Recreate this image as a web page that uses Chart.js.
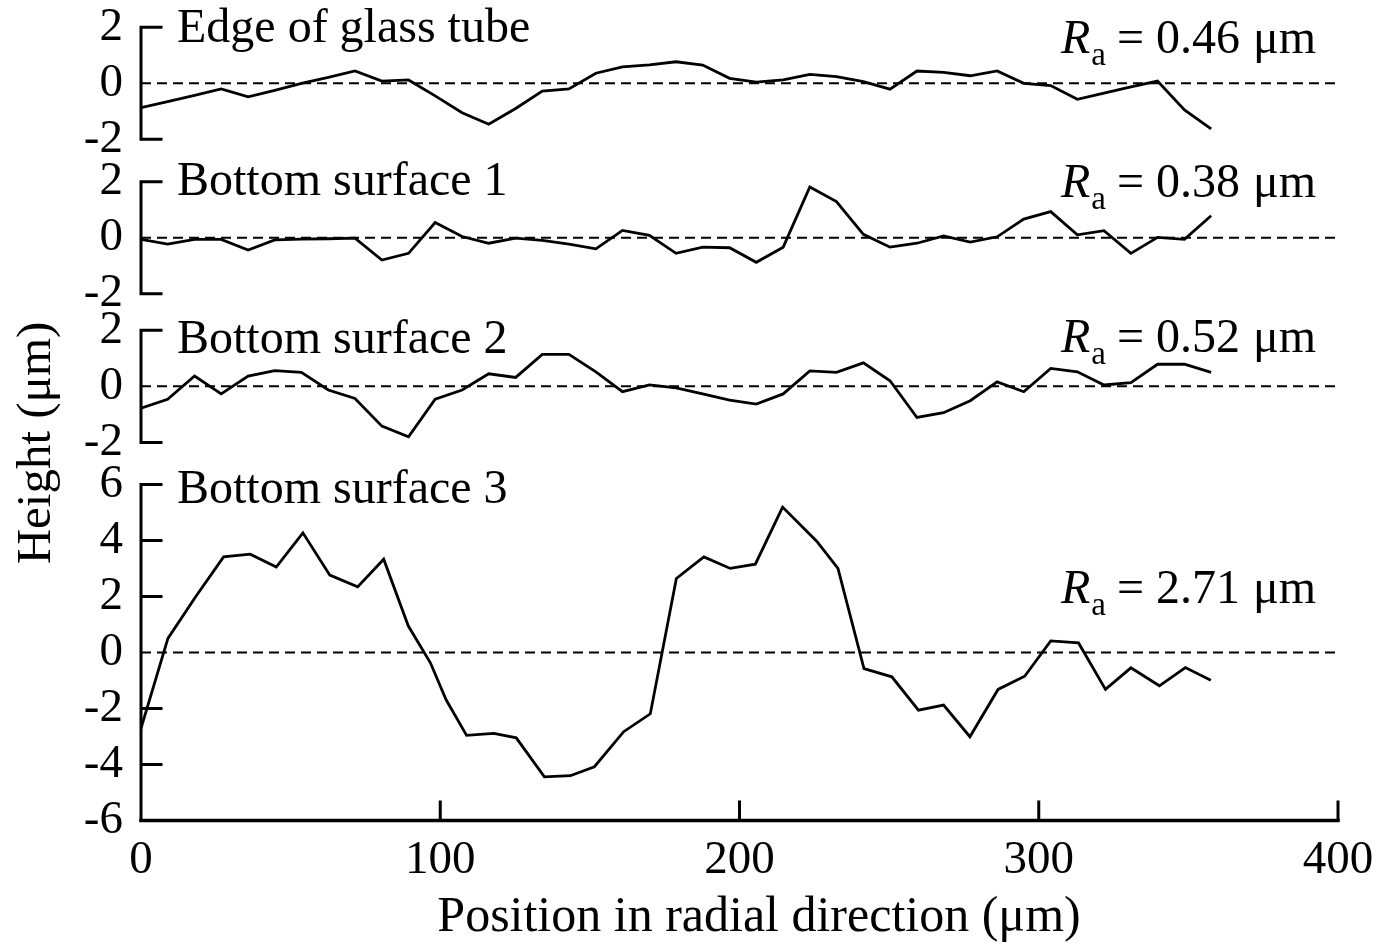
<!DOCTYPE html>
<html>
<head>
<meta charset="utf-8">
<title>Surface height profiles</title>
<script src="https://cdn.jsdelivr.net/npm/chart.js@4.4.1/dist/chart.umd.min.js"></script>
<style>
  html, body { margin: 0; padding: 0; background: #fff; }
  #wrap { width: 1380px; height: 944px; }
</style>
</head>
<body>
<div id="wrap"><canvas id="profileChart" width="1380" height="944"></canvas></div>
<script>
// Radial sample positions (um) shared by the three upper profiles
const POSITIONS = [0, 8.9, 17.9, 26.8, 35.8, 44.7, 53.6, 62.6, 71.5, 80.5, 89.4, 98.3, 107.3, 116.2,
  125.2, 134.1, 143.0, 152.0, 160.9, 169.9, 178.8, 187.7, 196.7, 205.6, 214.6, 223.5, 232.4, 241.4,
  250.3, 259.3, 268.2, 277.1, 286.1, 295.0, 304.0, 312.9, 321.8, 330.8, 339.7, 348.7, 357.6];

// Sample positions of the bottom surface 3 trace
const POSITIONS_3 = [0, 9.0, 18.2, 27.6, 36.5, 45.2, 54.1, 63.1, 72.4, 81.1, 89.3, 96.7, 102.0, 108.8,
  117.9, 125.4, 134.8, 143.5, 151.5, 161.3, 170.2, 178.9, 188.1, 196.9, 205.3, 214.4, 225.8, 232.9,
  241.6, 250.9, 259.8, 268.2, 277.0, 286.4, 295.3, 304.0, 313.3, 322.3, 330.8, 340.3, 349.0, 357.5];

// Heights (um)
const EDGE = [-0.87, -0.65, -0.43, -0.2, -0.48, -0.25, 0.0, 0.21, 0.44, 0.08, 0.12, -0.45, -1.05, -1.46,
  -0.9, -0.28, -0.2, 0.36, 0.59, 0.66, 0.77, 0.65, 0.18, 0.04, 0.12, 0.32, 0.24, 0.06, -0.21, 0.44,
  0.39, 0.27, 0.44, 0.0, -0.08, -0.57, -0.35, -0.13, 0.08, -0.95, -1.63];

const BOTTOM_1 = [-0.06, -0.23, -0.06, -0.06, -0.44, -0.08, -0.05, -0.04, -0.02, -0.80, -0.56, 0.54,
  0.04, -0.20, -0.02, -0.10, -0.23, -0.40, 0.26, 0.08, -0.56, -0.34, -0.36, -0.88, -0.34, 1.81, 1.29,
  0.12, -0.34, -0.20, 0.06, -0.16, 0.03, 0.66, 0.93, 0.10, 0.25, -0.56, 0.01, -0.06, 0.78];

const BOTTOM_2 = [-0.78, -0.46, 0.37, -0.27, 0.37, 0.56, 0.50, -0.13, -0.43, -1.42, -1.80, -0.46,
  -0.13, 0.45, 0.32, 1.14, 1.14, 0.52, -0.19, 0.05, -0.05, -0.27, -0.49, -0.63, -0.27, 0.55, 0.50,
  0.84, 0.20, -1.11, -0.94, -0.51, 0.16, -0.19, 0.64, 0.52, 0.05, 0.13, 0.79, 0.79, 0.50];

const BOTTOM_3 = [-2.71, 0.50, 1.98, 3.41, 3.51, 3.05, 4.27, 2.76, 2.34, 3.33, 0.95, -0.37, -1.70,
  -2.96, -2.89, -3.05, -4.44, -4.40, -4.08, -2.83, -2.19, 2.64, 3.41, 3.00, 3.15, 5.19, 3.97, 3.00,
  -0.58, -0.87, -2.06, -1.88, -3.01, -1.32, -0.85, 0.41, 0.34, -1.32, -0.55, -1.19, -0.54, -0.99];

const PANEL_NAMES = ['Edge of glass tube', 'Bottom surface 1', 'Bottom surface 2', 'Bottom surface 3'];
const RA_VALUES = ['0.46', '0.38', '0.52', '2.71'];
const SMALL_TICKS = [-2, 0, 2];
const LARGE_TICKS = [-6, -4, -2, 0, 2, 4, 6];
const X_TICKS = [0, 100, 200, 300, 400];
const X_TITLE = 'Position in radial direction (\u03bcm)';
const Y_TITLE = 'Height (\u03bcm)';

// Layout
const FONT = "'Liberation Serif', 'Times New Roman', serif";
const AXIS_IDS = ['y1', 'y2', 'y3', 'y4'];
const PANEL_TICKS = [SMALL_TICKS, SMALL_TICKS, SMALL_TICKS, LARGE_TICKS];
const PANEL_MIN = [-3.51, -3.31, -3.5, -6];     // extra room below each panel acts as the gap
const PANEL_MAX = [2, 2, 2, 6];
const NAME_BASELINE = [42, 195, 353, 503];
const RA_BASELINE = [53, 197, 352, 603];
const TICK_LEN = 20;

Chart.defaults.font.family = FONT;
Chart.defaults.color = '#000';

const traces = [
  { x: POSITIONS, y: EDGE },
  { x: POSITIONS, y: BOTTOM_1 },
  { x: POSITIONS, y: BOTTOM_2 },
  { x: POSITIONS_3, y: BOTTOM_3 }
];

const datasets = [];
traces.forEach((t, i) => {
  datasets.push({
    data: t.x.map((x, k) => ({ x, y: t.y[k] })),
    yAxisID: AXIS_IDS[i],
    borderColor: '#000',
    borderWidth: 2.8,
    borderJoinStyle: 'miter',
    pointRadius: 0,
    tension: 0,
    fill: false
  });
  // zero reference line
  datasets.push({
    data: [{ x: X_TICKS[0], y: 0 }, { x: X_TICKS[X_TICKS.length - 1], y: 0 }],
    yAxisID: AXIS_IDS[i],
    borderColor: '#000',
    borderWidth: 2,
    borderDash: [10, 6],
    pointRadius: 0,
    fill: false
  });
});

function panelAxis(i) {
  const ticks = PANEL_TICKS[i];
  return {
    type: 'linear',
    position: 'left',
    stack: 'panels',
    stackWeight: PANEL_MAX[i] - PANEL_MIN[i],
    weight: AXIS_IDS.length - i,
    min: PANEL_MIN[i],
    max: PANEL_MAX[i],
    grid: { display: false, drawTicks: false },
    border: { display: false },
    afterBuildTicks: s => { s.ticks = ticks.map(v => ({ value: v })); },
    afterFit: s => {
      s.width = 141;
      s.paddingTop = 0; s.paddingBottom = 0;
    },
    ticks: { autoSkip: false, padding: 18, font: { size: 47 } }
  };
}

const scales = {
  x: {
    type: 'linear',
    position: 'bottom',
    min: X_TICKS[0],
    max: X_TICKS[X_TICKS.length - 1],
    grid: { display: false, drawTicks: false },
    border: { display: false },
    afterBuildTicks: s => { s.ticks = X_TICKS.map(v => ({ value: v })); },
    afterFit: s => {
      s.height = 944 - 820.5;
      s.paddingLeft = 0; s.paddingRight = 0;
    },
    ticks: { autoSkip: false, maxRotation: 0, padding: 12, font: { size: 47 } }
  }
};
AXIS_IDS.forEach((id, i) => { scales[id] = panelAxis(i); });

// Axis brackets, inward ticks, titles and Ra labels
const panelFrame = {
  id: 'panelFrame',
  afterDraw(chart) {
    const ctx = chart.ctx;
    const xs = chart.scales.x;
    const left = xs.getPixelForValue(X_TICKS[0]);
    const right = xs.getPixelForValue(X_TICKS[X_TICKS.length - 1]);
    ctx.save();
    ctx.strokeStyle = '#000';
    ctx.lineWidth = 3;
    ctx.lineCap = 'square';

    AXIS_IDS.forEach((id, i) => {
      const s = chart.scales[id];
      const ticks = PANEL_TICKS[i];
      const top = s.getPixelForValue(ticks[ticks.length - 1]);
      const bottom = s.getPixelForValue(ticks[0]);
      ctx.beginPath();
      ctx.moveTo(left, top);
      ctx.lineTo(left, bottom);
      ticks.forEach(v => {
        if (v === 0) return;
        const py = s.getPixelForValue(v);
        ctx.moveTo(left, py);
        ctx.lineTo(left + TICK_LEN, py);
      });
      ctx.stroke();
    });

    // x axis with upward ticks
    const base = chart.scales.y4.getPixelForValue(PANEL_MIN[3]);
    ctx.lineWidth = 3.5;
    ctx.beginPath();
    ctx.moveTo(left, base);
    ctx.lineTo(right, base);
    ctx.stroke();
    ctx.lineWidth = 3;
    ctx.lineCap = 'butt';
    ctx.beginPath();
    X_TICKS.slice(1).forEach(v => {
      const px = xs.getPixelForValue(v);
      ctx.moveTo(px, base);
      ctx.lineTo(px, base - TICK_LEN);
    });
    ctx.stroke();

    // panel names
    ctx.fillStyle = '#000';
    ctx.textAlign = 'left';
    ctx.textBaseline = 'alphabetic';
    ctx.font = `48px ${FONT}`;
    PANEL_NAMES.forEach((name, i) => ctx.fillText(name, 177, NAME_BASELINE[i]));

    // roughness labels: R_a = value um
    RA_VALUES.forEach((val, i) => {
      const b = RA_BASELINE[i];
      const x0 = 1061;
      ctx.font = `italic 48px ${FONT}`;
      ctx.fillText('R', x0, b);
      const wR = ctx.measureText('R').width;
      ctx.font = `33px ${FONT}`;
      ctx.fillText('a', x0 + wR + 1, b + 12);
      ctx.font = `48px ${FONT}`;
      ctx.fillText('=', x0 + 56, b);
      ctx.fillText(val, x0 + 95, b);
      const wV = ctx.measureText(val).width;
      ctx.fillText('\u03bcm', x0 + 95 + wV + 13, b);
    });

    // x axis title
    ctx.textAlign = 'center';
    ctx.font = `50px ${FONT}`;
    ctx.fillText(X_TITLE, 759, 931);

    // y axis title
    ctx.translate(37, 443);
    ctx.rotate(-Math.PI / 2);
    ctx.textBaseline = 'middle';
    ctx.font = `49px ${FONT}`;
    ctx.fillText(Y_TITLE, 0, 0);
    ctx.restore();
  }
};

new Chart(document.getElementById('profileChart'), {
  type: 'line',
  data: { datasets },
  options: {
    responsive: false,
    animation: false,
    layout: { padding: { top: 27.3, right: 42, left: 0, bottom: 0 } },
    plugins: { legend: { display: false }, tooltip: { enabled: false } },
    scales
  },
  plugins: [panelFrame]
});
</script>
</body>
</html>
